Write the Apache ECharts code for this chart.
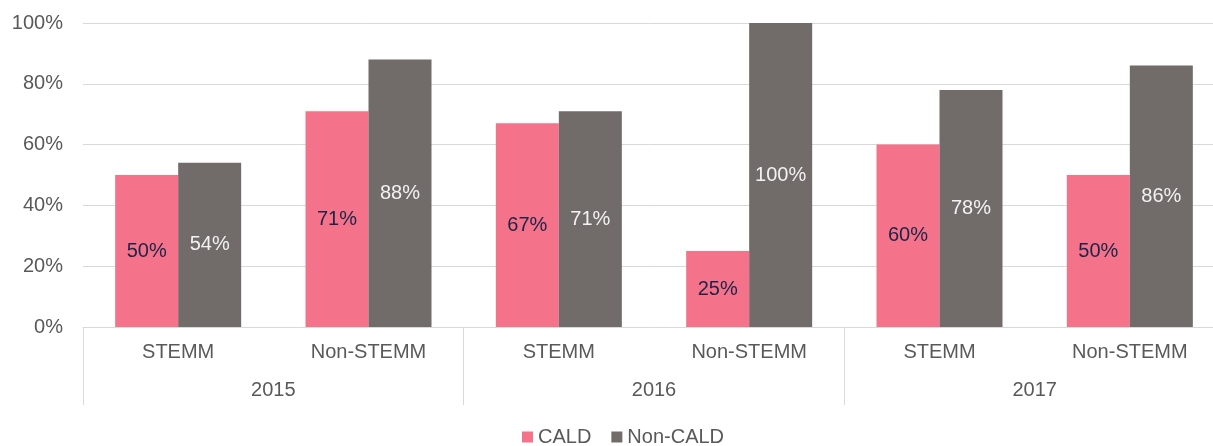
<!DOCTYPE html>
<html>
<head>
<meta charset="utf-8">
<script src="https://cdn.jsdelivr.net/npm/echarts@6/dist/echarts.min.js"></script>
<style>html,body{margin:0;padding:0;background:#fff;}#c{width:1213px;height:446px;}</style>
</head>
<body>
<div id="c"></div>
<script>
const categories = ['STEMM', 'Non-STEMM', 'STEMM', 'Non-STEMM', 'STEMM', 'Non-STEMM'];
const years = ['2015', '2016', '2017'];
const cald = [50, 71, 67, 25, 60, 50];
const nonCald = [54, 88, 71, 100, 78, 86];
const yTicks = { min: 0, max: 100, interval: 20 };

const FONT = 'Liberation Sans, Arial, sans-serif';
const GRID_COLOR = '#d9d9d9';
const FS = 20;
const chart = echarts.init(document.getElementById('c'));
chart.setOption({
  animation: false,
  textStyle: { fontFamily: FONT },
  grid: { left: 83, width: 1142, top: 23, height: 304, outerBoundsMode: 'none', containLabel: false },
  legend: {
    data: ['CALD', 'Non-CALD'],
    left: 517, top: 422,
    icon: 'rect', itemWidth: 11, itemHeight: 11, itemGap: 20,
    textStyle: { fontSize: FS, color: '#595959', fontFamily: FONT }
  },
  xAxis: [
    {
      type: 'category', data: categories, position: 'bottom',
      axisLine: { show: true, lineStyle: { color: GRID_COLOR } },
      axisTick: { show: false },
      axisLabel: { color: '#595959', fontSize: FS, margin: 15, fontFamily: FONT }
    },
    {
      type: 'category', data: years, position: 'bottom',
      axisLine: { show: false },
      axisTick: { show: true, length: 78, lineStyle: { color: GRID_COLOR } },
      axisLabel: { color: '#595959', fontSize: FS, margin: 53, fontFamily: FONT }
    }
  ],
  yAxis: {
    type: 'value', min: yTicks.min, max: yTicks.max, interval: yTicks.interval,
    axisLine: { show: false }, axisTick: { show: false },
    axisLabel: { formatter: '{value}%', color: '#595959', fontSize: FS, margin: 20, fontFamily: FONT },
    splitLine: { lineStyle: { color: GRID_COLOR, width: 1 } }
  },
  series: [
    {
      name: 'CALD', type: 'bar', data: cald, barWidth: 63, barGap: '0%',
      itemStyle: { color: '#F4728A' },
      label: { show: true, position: 'inside', formatter: '{c}%', color: '#1c2447', fontSize: FS, fontFamily: FONT }
    },
    {
      name: 'Non-CALD', type: 'bar', data: nonCald, barWidth: 63, barGap: '0%',
      itemStyle: { color: '#716C69' },
      label: { show: true, position: 'inside', formatter: '{c}%', color: '#f2f2f2', fontSize: FS, fontFamily: FONT }
    }
  ]
});
</script>
</body>
</html>
